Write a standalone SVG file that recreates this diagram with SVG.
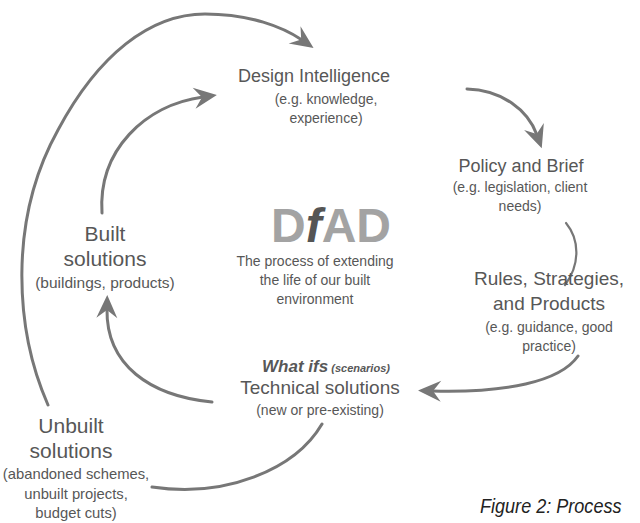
<svg xmlns="http://www.w3.org/2000/svg" width="640" height="523" viewBox="0 0 640 523">
  <style>
    text { font-family: "Liberation Sans", Arial, sans-serif; fill: #575757; text-anchor: middle; }
    .title { font-size: 18px; }
    .sub { font-size: 14px; }
    .big { font-size: 19px; }
    .side-title { font-size: 21px; }
    .side-sub { font-size: 15.5px; }
    .side-sub-s { font-size: 14.8px; }
    .flow { fill: none; stroke: #777; stroke-width: 3; stroke-linecap: round; }
    .thin { stroke-width: 2.2; }
    .logo { font-size: 48px; font-weight: bold; fill: #a3a3a3; }
    .logo-f { fill: #555; font-style: italic; }
    .caption { font-size: 21px; font-style: italic; fill: #222; text-anchor: start; }
  </style>
  <defs>
    <marker id="head" markerUnits="userSpaceOnUse" viewBox="-24 -12 26 24" markerWidth="26" markerHeight="24" refX="-14" refY="0" orient="auto">
      <path d="M0 0 L-23 -10.5 L-15 0 L-23 10.5 Z" fill="#777"/>
    </marker>
  </defs>

  <!-- connectors -->
  <g id="connectors">
    <!-- unbuilt solutions back to design intelligence -->
    <path class="flow" d="M48 405 C15 330 8 220 58 130 C98 55 150 14 205 14 C250 14 283 27 302 40" marker-end="url(#head)"/>
    <!-- built solutions back to design intelligence -->
    <path class="flow" d="M102 213 C98 150 145 105 203 97" marker-end="url(#head)"/>
    <!-- design intelligence to policy and brief -->
    <path class="flow" d="M467 89 C502 90 528 110 537 135" marker-end="url(#head)"/>
    <!-- policy and brief to rules -->
    <path class="flow thin" d="M566 223 C580 240 580 265 565 285"/>
    <!-- rules to technical solutions -->
    <path class="flow" d="M578 356 C560 382 505 393 432 391" marker-end="url(#head)"/>
    <!-- technical solutions to built solutions -->
    <path class="flow" d="M212 402 C150 396 106 365 107 309" marker-end="url(#head)"/>
    <!-- technical solutions to unbuilt solutions -->
    <path class="flow" d="M322 424 C295 470 225 498 152 487"/>
  </g>

  <g id="design-intelligence">
    <text class="title" x="314" y="82">Design Intelligence</text>
    <text class="sub" x="326" y="104">(e.g. knowledge,</text>
    <text class="sub" x="326" y="123">experience)</text>
  </g>

  <g id="policy-brief">
    <text class="title" x="521" y="172">Policy and Brief</text>
    <text class="sub" x="520" y="192">(e.g. legislation, client</text>
    <text class="sub" x="520" y="211">needs)</text>
  </g>

  <g id="rules">
    <text class="big" x="549" y="285">Rules, Strategies,</text>
    <text class="big" x="549" y="310">and Products</text>
    <text class="sub" x="549" y="332">(e.g. guidance, good</text>
    <text class="sub" x="549" y="351">practice)</text>
  </g>

  <g id="technical-solutions">
    <text x="326" y="372"><tspan font-size="17" font-weight="bold" font-style="italic">What ifs</tspan><tspan font-size="11" font-weight="bold" font-style="italic"> (scenarios)</tspan></text>
    <text class="big" x="320" y="394">Technical solutions</text>
    <text class="sub" x="320" y="415">(new or pre-existing)</text>
  </g>

  <g id="built-solutions">
    <text class="side-title" x="105" y="241">Built</text>
    <text class="side-title" x="105" y="266">solutions</text>
    <text class="side-sub" x="105" y="288">(buildings, products)</text>
  </g>

  <g id="unbuilt-solutions">
    <text class="side-title" x="71" y="433">Unbuilt</text>
    <text class="side-title" x="71" y="458">solutions</text>
    <text class="side-sub-s" x="76" y="479">(abandoned schemes,</text>
    <text class="side-sub-s" x="76" y="499">unbuilt projects,</text>
    <text class="side-sub-s" x="76" y="518">budget cuts)</text>
  </g>

  <g id="dfad">
    <text class="logo" x="331" y="242">D<tspan class="logo-f">f</tspan>AD</text>
    <text class="sub" x="315" y="266">The process of extending</text>
    <text class="sub" x="315" y="285">the life of our built</text>
    <text class="sub" x="315" y="304">environment</text>
  </g>

  <!-- caption, condensed horizontally -->
  <text class="caption" transform="translate(480 513) scale(0.86 1)">Figure 2:  Process</text>
</svg>
